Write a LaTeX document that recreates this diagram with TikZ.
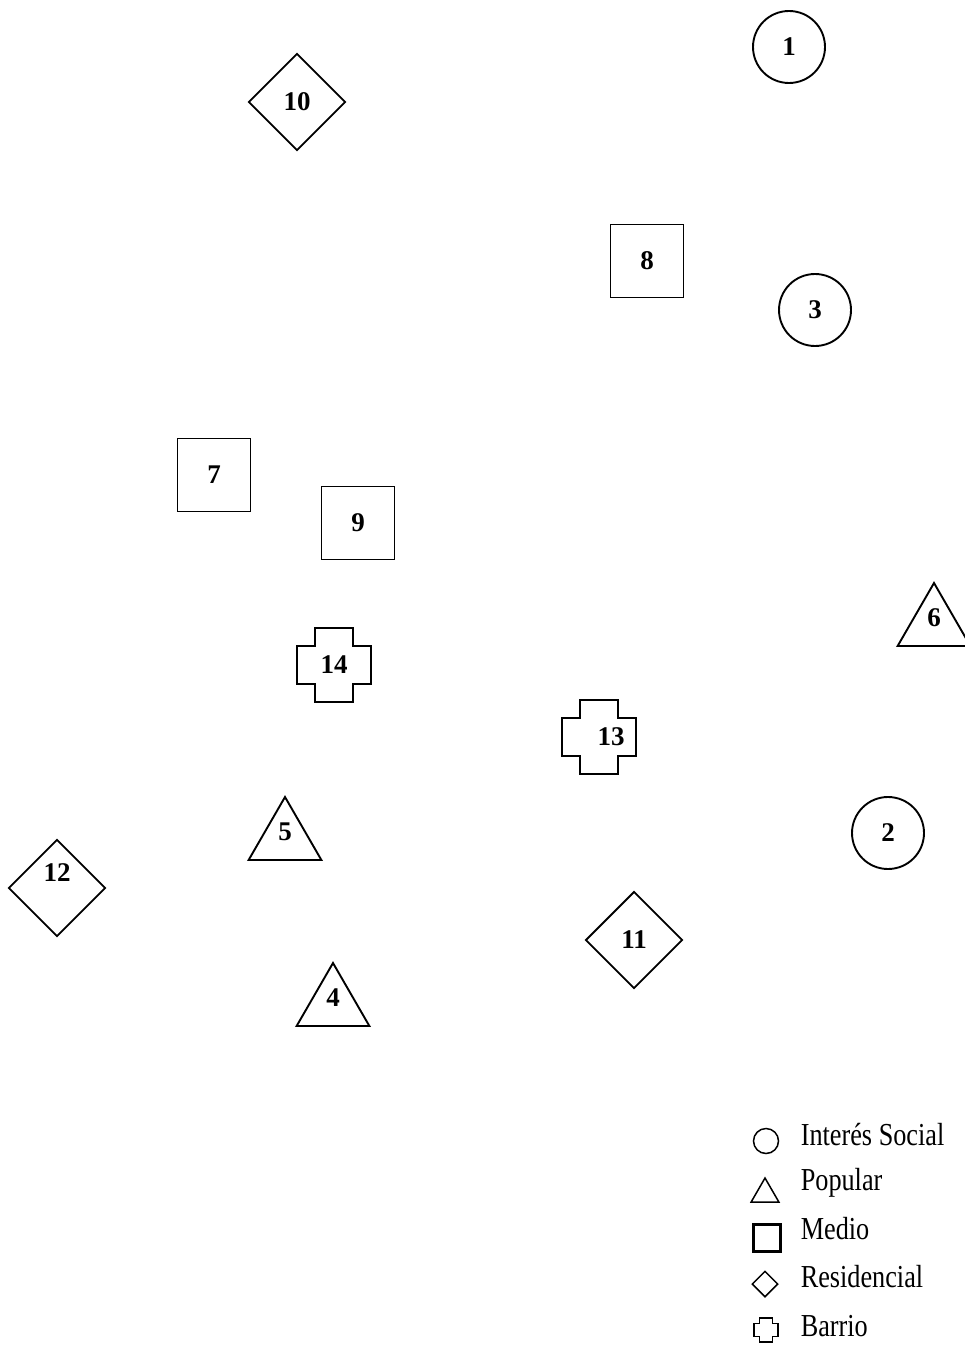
\documentclass[tikz,border=0pt]{standalone}
\usepackage{fontspec}
\setmainfont{Liberation Serif}
\usetikzlibrary{shapes.geometric}
\begin{document}
\begin{tikzpicture}[x=1pt,y=-1pt,line width=1.9pt,
  num/.style={font=\fontsize{27}{27}\selectfont\bfseries,inner sep=0pt},
  social/.style={num,draw,circle,minimum size=72pt},
  popular/.style={num,draw,regular polygon,regular polygon sides=3,minimum size=84pt,text height=15pt,text depth=13pt},
  medio/.style={num,draw,rectangle,minimum size=73pt},
  residencial/.style={num,draw,diamond,minimum size=97pt},
  barrio/.pic={\draw (-19,-37) -- (19,-37) -- (19,-19) -- (37,-19) -- (37,19) -- (19,19) -- (19,37) -- (-19,37) -- (-19,19) -- (-37,19) -- (-37,-19) -- (-19,-19) -- cycle;},
  key/.style={anchor=base west,font=\fontsize{32}{32}\selectfont,xscale=.82,transform shape,inner sep=0pt}]
\useasboundingbox (0,0) rectangle (965,1348);
% Interes social
\node[social] (n1) at (789,47) {1};
\node[social] (n3) at (815,310) {3};
\node[social] (n2) at (888,833) {2};
% Popular
\node[popular] (n6) at (934,625) {6};
\node[popular] (n5) at (285,839) {5};
\node[popular] (n4) at (333,1005) {4};
% Medio
\node[medio] (n8) at (647,261) {8};
\node[medio] (n7) at (214,475) {7};
\node[medio] (n9) at (358,523) {9};
% Residencial
\node[residencial] (n10) at (297,102) {10};
\node[residencial] (n11) at (634,940) {11};
\node[residencial,text height=17pt,text depth=31pt] (n12) at (57,888) {12};
% Barrio
\pic (b14) at (334,665) {barrio};
\node[num] (n14) at (334,665) {14};
\pic (b13) at (599,737) {barrio};
\node[num] (n13) at (611,737) {13};
% leyenda
\node[draw,circle,minimum size=25pt,line width=1.5pt] (ksocial) at (766,1141) {};
\node[draw,regular polygon,regular polygon sides=3,minimum size=32pt,inner sep=0pt,line width=1.5pt] (kpopular) at (765,1194) {};
\node[draw,rectangle,minimum size=27pt,line width=3pt] (kmedio) at (767,1238) {};
\node[draw,diamond,minimum size=26pt,inner sep=0pt,line width=1.5pt] (kresidencial) at (765,1284) {};
\pic[line width=1.5pt,scale=.33] (kbarrio) at (766,1330) {barrio};
\node[key] (tsocial) at (800,1145) {Interés Social};
\node[key] (tpopular) at (800,1190) {Popular};
\node[key] (tmedio) at (800,1239) {Medio};
\node[key] (tresidencial) at (800,1287) {Residencial};
\node[key] (tbarrio) at (800,1336) {Barrio};
\end{tikzpicture}
\end{document}
